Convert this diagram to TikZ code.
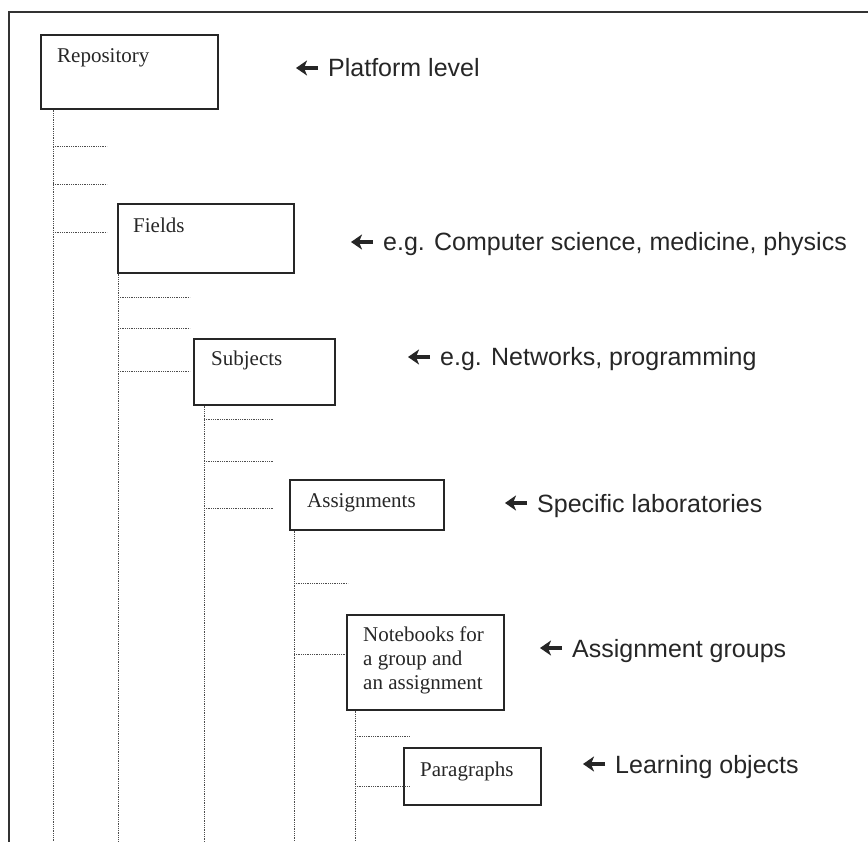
\documentclass[tikz,border=0pt]{standalone}
\usepackage{fontspec}
\setmainfont{Liberation Serif}
\newfontfamily\labfont{Liberation Sans}
\usetikzlibrary{arrows.meta}
\begin{document}
\begin{tikzpicture}[x=1pt,y=-1pt,
  box/.style={draw=black!85, line width=1.6pt, inner sep=0pt, anchor=north west},
  boxtext/.style={font=\fontsize{21}{24}\selectfont, inner sep=0pt, text=black!85},
  lab/.style={font=\labfont\fontsize{25}{30}\selectfont, anchor=base west, inner sep=0pt, text=black!85},
  pointer/.style={line width=4pt, draw=black!85, -{Stealth[length=11pt,width=15pt,inset=3pt]}},
  dot/.style={line width=1pt, draw=black!70, dash pattern=on 0.9pt off 0.9pt},
  frame/.style={line width=1.8pt, draw=black!80}]
\useasboundingbox (0,0) rectangle (868,842);

% frame
\coordinate (fTL) at (9,12);
\coordinate (fTR) at (868,12);
\coordinate (fBL) at (9,842);
\draw[frame] (fBL) -- (fTL) -- (fTR);

% boxes
\node[box, minimum width=177pt, minimum height=74pt] (repo) at (40,34) {};
\node[boxtext, anchor=base west] (repoT) at (57,63) {Repository};
\node[box, minimum width=176pt, minimum height=69pt] (fields) at (117,203) {};
\node[boxtext, anchor=base west] (fieldsT) at (133,233) {Fields};
\node[box, minimum width=141pt, minimum height=66pt] (subj) at (193,338) {};
\node[boxtext, anchor=base west] (subjT) at (211,366) {Subjects};
\node[box, minimum width=154pt, minimum height=50pt] (assign) at (289,479) {};
\node[boxtext, anchor=base west] (assignT) at (307,507) {Assignments};
\node[box, minimum width=157pt, minimum height=95pt] (note) at (346,614) {};
\node[boxtext, anchor=north west, align=left] (noteT) at (363,627) {Notebooks for\\a group and\\an assignment};
\node[box, minimum width=137pt, minimum height=57pt] (para) at (403,747) {};
\node[boxtext, anchor=base west] (paraT) at (420,776) {Paragraphs};

% trunks
\coordinate (b1) at (53,842);
\coordinate (b2) at (118,842);
\coordinate (b3) at (204,842);
\coordinate (b4) at (294,842);
\coordinate (b5) at (355,842);
\draw[dot] (repo.south -| b1) -- (b1);
\draw[dot] (fields.south -| b2) -- (b2);
\draw[dot] (subj.south -| b3) -- (b3);
\draw[dot] (assign.south -| b4) -- (b4);
\draw[dot] (note.south -| b5) -- (b5);

% stubs
\draw[dot] (53,147) -- (107,147);
\draw[dot] (53,185) -- (107,185);
\draw[dot] (53,233) -- (107,233);
\draw[dot] (118,298) -- (190,298);
\draw[dot] (118,329) -- (190,329);
\draw[dot] (118,372) -- (190,372);
\draw[dot] (204,419) -- (274,419);
\draw[dot] (204,461) -- (274,461);
\draw[dot] (204,508) -- (274,508);
\draw[dot] (294,583) -- (348,583);
\draw[dot] (294,654) -- (note.west |- 294,654);
\draw[dot] (355,736) -- (410,736);
\draw[dot] (355,786) -- (410,786);

% labels
\node[lab] (l1) at (328,77) {Platform level};
\node[lab] (l2) at (383,251) {e.g. Computer science, medicine, physics};
\node[lab] (l3) at (440,366) {e.g. Networks, programming};
\node[lab] (l4) at (537,512) {Specific laboratories};
\node[lab] (l5) at (572,657) {Assignment groups};
\node[lab] (l6) at (615,773) {Learning objects};
\foreach \l in {l1,l2,l3,l4,l5,l6}
  \draw[pointer] ([xshift=-10pt,yshift=9pt]\l.base west) -- ++(-22,0);
\end{tikzpicture}
\end{document}
